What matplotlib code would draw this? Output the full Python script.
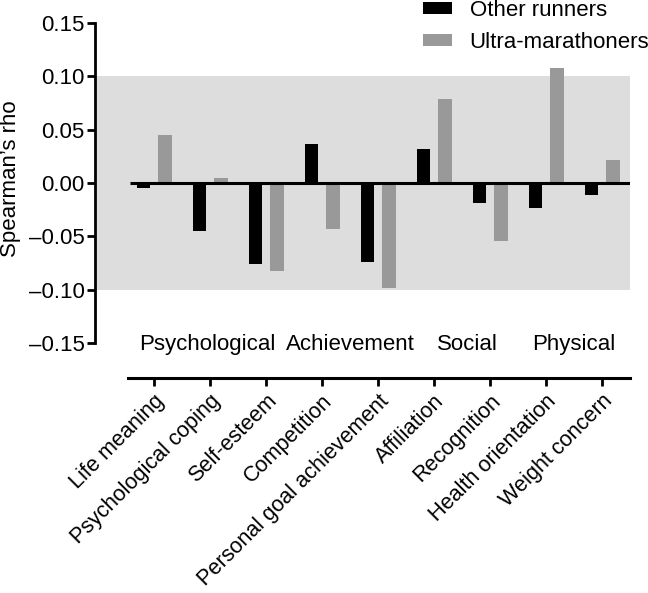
import matplotlib
matplotlib.use("Agg")
import matplotlib.pyplot as plt
from matplotlib import transforms
import numpy as np

plt.rcParams['font.family'] = ['Liberation Sans', 'DejaVu Sans']

categories = ["Life meaning", "Psychological coping", "Self-esteem", "Competition",
              "Personal goal achievement", "Affiliation", "Recognition",
              "Health orientation", "Weight concern"]
other_runners = [-0.005, -0.045, -0.076, 0.037, -0.074, 0.032, -0.019, -0.023, -0.011]
ultra_marathoners = [0.045, 0.005, -0.0825, -0.043, -0.098, 0.079, -0.054, 0.1075, 0.0215]
groups = ["Psychological", "Achievement", "Social", "Physical"]
group_centers = [0.95, 3.5, 5.6, 7.5]
yticks = [-0.15, -0.10, -0.05, 0.00, 0.05, 0.10, 0.15]
band = (-0.10, 0.10)

W, H = 648, 593
fig = plt.figure(figsize=(W / 100, H / 100), dpi=100)
FS = 16

def px(x0, y0, x1, y1):
    return [x0 / W, 1 - y1 / H, (x1 - x0) / W, (y1 - y0) / H]

ax = fig.add_axes(px(95, 23, 630, 343))
x = np.arange(len(categories))
ax.set_xlim(-1.054, 8.5)
ax.set_ylim(-0.15, 0.15)

ax.axhspan(band[0], band[1], color='#dddddd', zorder=0, lw=0)
off, bw = 0.19, 0.245
b1 = ax.bar(x - off, other_runners, bw, color='black', zorder=2, label='Other runners')
b2 = ax.bar(x + off, ultra_marathoners, bw, color='#999999', zorder=2, label='Ultra-marathoners')
ax.hlines(0, -0.43, 8.5, color='black', lw=2.2, zorder=3)

for s in ['top', 'right', 'bottom']:
    ax.spines[s].set_visible(False)
ax.spines['left'].set_linewidth(2)
ax.set_xticks([])
ax.set_yticks(yticks)
ax.set_yticklabels([f"{v:.2f}".replace('-', '\u2013') for v in yticks], fontsize=FS)
ax.tick_params(axis='y', direction='out', length=6, width=2, pad=1.5)
ax.set_ylabel("Spearman\u2019s rho", fontsize=FS, va='center')
ax.yaxis.set_label_coords(-0.158, 0.515)

trans = transforms.blended_transform_factory(ax.transData, ax.transAxes)
for g, c in zip(groups, group_centers):
    ax.text(c, -0.022, g, transform=trans, ha='center', va='baseline', fontsize=FS, clip_on=False)

ax2 = fig.add_axes(px(128, 368, 630, 378))
ax2.set_xlim(-0.464, 8.5)
ax2.set_ylim(0, 1)
for s in ['top', 'right', 'left']:
    ax2.spines[s].set_visible(False)
ax2.spines['bottom'].set_linewidth(2.2)
ax2.patch.set_visible(False)
ax2.set_yticks([])
ax2.set_xticks(x)
ax2.set_xticklabels(categories, rotation=45, ha='right', rotation_mode='anchor', fontsize=15.6)
ax2.tick_params(axis='x', direction='out', length=6, width=2, pad=3)

ax.legend(handles=[b1, b2], loc='upper left', bbox_to_anchor=(423 / W, 1.0),
          bbox_transform=fig.transFigure, frameon=False, fontsize=FS,
          handlelength=1.3, handleheight=0.42, handletextpad=0.8, labelspacing=0.5,
          borderpad=0.0, borderaxespad=0.0)

fig.savefig("out.png", dpi=100)
